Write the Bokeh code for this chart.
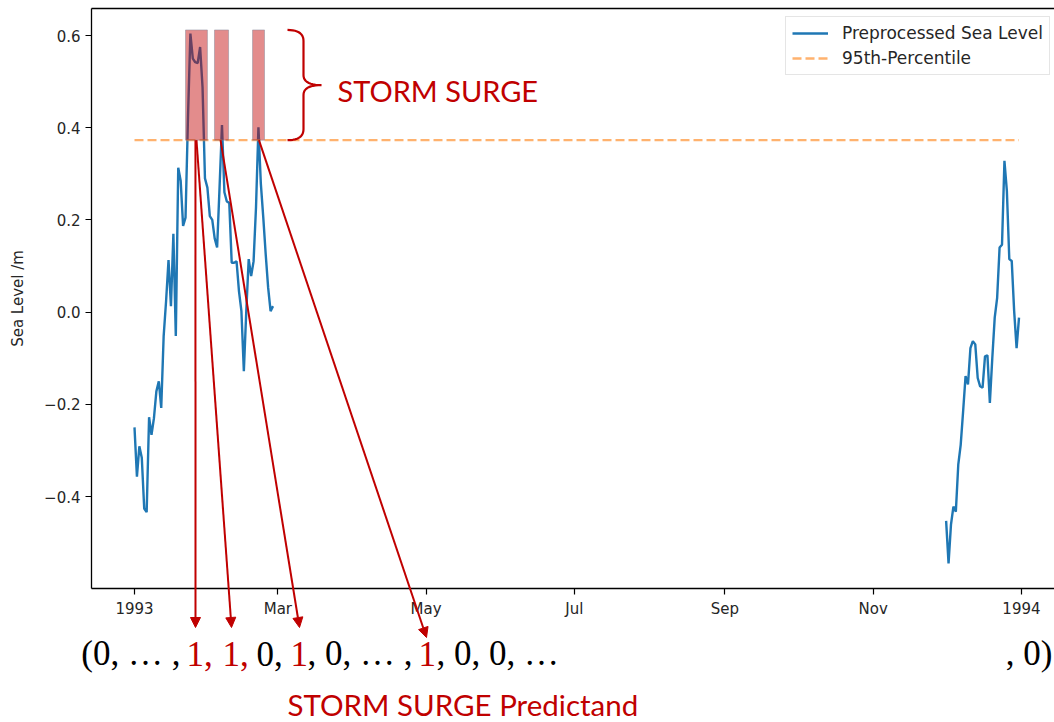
import numpy as np
import pandas as pd
from bokeh.plotting import figure
from bokeh.models import Range1d, FixedTicker, Label, Arrow, NormalHead
from bokeh.embed import file_html
from bokeh.resources import INLINE

# ---------------- data ----------------
seg1_start = "1993-01-01"
seg1_level = [-0.250, -0.357, -0.291, -0.316, -0.426, -0.434, -0.228, -0.266, -0.230, -0.172,
              -0.150, -0.208, -0.052, 0.024, 0.113, 0.013, 0.170, -0.052, 0.313, 0.285,
              0.187, 0.205, 0.420, 0.604, 0.550, 0.542, 0.540, 0.575, 0.488, 0.290,
              0.270, 0.208, 0.200, 0.160, 0.140, 0.270, 0.406, 0.260, 0.240, 0.237,
              0.107, 0.107, 0.110, 0.045, 0.002, -0.128, 0.002, 0.115, 0.078, 0.110,
              0.227, 0.401, 0.278, 0.205, 0.125, 0.053, 0.002, 0.013]
seg2_start = "1993-12-01"
seg2_level = [-0.453, -0.545, -0.461, -0.422, -0.433, -0.331, -0.288, -0.215, -0.139, -0.157,
              -0.078, -0.063, -0.070, -0.143, -0.161, -0.164, -0.096, -0.094, -0.197, -0.100,
              -0.012, 0.031, 0.140, 0.146, 0.328, 0.263, 0.115, 0.111, 0.002, -0.078,
              -0.012]
threshold_95 = 0.373
threshold_span = ["1993-01-01", "1993-12-31"]
surge_start = ["1993-01-22 00:00", "1993-02-02 22:00", "1993-02-18 14:00"]
surge_end = ["1993-01-31 00:00", "1993-02-08 17:00", "1993-02-23 12:00"]
surge_top = 0.612
arrow_from = ["1993-01-26 02:00", "1993-01-26 12:00", "1993-02-05 10:00", "1993-02-21 05:00"]
x_tick_dates = ["1993-01-01", "1993-03-01", "1993-05-01", "1993-07-01",
                "1993-09-01", "1993-11-01", "1994-01-01"]
x_tick_labels = ["1993", "Mar", "May", "Jul", "Sep", "Nov", "1994"]
y_ticks = [-0.4, -0.2, 0.0, 0.2, 0.4, 0.6]
y_tick_labels = ["\u22120.4", "\u22120.2", "0.0", "0.2", "0.4", "0.6"]

# ---------------- layout helpers ----------------
RED = "#c00000"
BLUE = "#1f77b4"
ORANGE = "#ff7f0e"
INK = "#262626"
DAY = 86400000.0
W, H = 1054, 722


def to_ms(s):
    return pd.Timestamp(s).value / 1e6


T0 = to_ms("1993-01-01")


def dx(px):  # canvas pixel -> data x (ms)
    return T0 + (px - 134) / 2.43 * DAY


def dy(py):  # canvas pixel -> data y
    return 0.6 - (py - 35) / 461.0


def py_of(v):
    return 35 + (0.6 - v) * 461.0


def base_y(py, size):  # alphabetic baseline correction for Label
    return dy(py - 0.415 * size)


FL, FT, FB = 91, 8, 588   # axes box (left, top, bottom) in canvas pixels

p = figure(width=W, height=H, x_axis_type="datetime",
           x_range=Range1d(dx(0), dx(W)), y_range=Range1d(dy(H), dy(0)),
           output_backend="svg", toolbar_location=None,
           min_border_left=0, min_border_right=0, min_border_top=0, min_border_bottom=0)
p.outline_line_color = None
p.xgrid.visible = False
p.ygrid.visible = False
p.background_fill_color = "white"
p.border_fill_color = "white"

# spines
p.segment(x0=[dx(FL), dx(FL), dx(FL)], y0=[dy(FB), dy(FB), dy(FT)],
          x1=[dx(FL), dx(W), dx(W)], y1=[dy(FT), dy(FB), dy(FT)],
          line_color="black", line_width=1.3)

# sea level line (gap between segments)
d1 = pd.date_range(seg1_start, periods=len(seg1_level), freq="D")
d2 = pd.date_range(seg2_start, periods=len(seg2_level), freq="D")
xs = [to_ms(d) for d in d1] + [to_ms(d1[-1]) + DAY] + [to_ms(d) for d in d2]
ys = list(seg1_level) + [np.nan] + list(seg2_level)
p.line(xs, ys, line_color=BLUE, line_width=2.4, legend_label="Preprocessed Sea Level")

# 95th percentile
p.line([to_ms(s) for s in threshold_span], [threshold_95, threshold_95], line_color=ORANGE,
       line_alpha=0.6, line_width=2.4, line_dash="9 4", legend_label="95th-Percentile")

# storm surge boxes
p.quad(left=[to_ms(s) for s in surge_start], right=[to_ms(s) for s in surge_end],
       bottom=threshold_95, top=surge_top, fill_color=RED, fill_alpha=0.45,
       line_color="#8a8a9a", line_alpha=0.5, line_width=1)


# curly brace beside the boxes
def quad_pts(a, c, b, n=12):
    t = np.linspace(0, 1, n)
    return ((1 - t) ** 2 * a[0] + 2 * (1 - t) * t * c[0] + t ** 2 * b[0],
            (1 - t) ** 2 * a[1] + 2 * (1 - t) * t * c[1] + t ** 2 * b[1])


top_py, bot_py = py_of(surge_top), py_of(threshold_95)
mid_py = (top_py + bot_py) / 2
xe, xsp, xt = 287, 303, 321
bpx, bpy = [], []
for seg in [((xe, top_py), (xsp, top_py), (xsp, top_py + 11)),
            ((xsp, mid_py - 10), (xsp, mid_py), (xt, mid_py)),
            ((xt, mid_py), (xsp, mid_py), (xsp, mid_py + 10)),
            ((xsp, bot_py - 11), (xsp, bot_py), (xe, bot_py))]:
    qx, qy = quad_pts(*seg)
    bpx.extend(qx)
    bpy.extend(qy)
p.line([dx(v) for v in bpx], [dy(v) for v in bpy], line_color=RED, line_width=2.2)

p.add_layout(Label(x=dx(337), y=base_y(102, 29), text="STORM SURGE", text_font="Lato",
                   text_font_size="29px", text_color=RED, text_baseline="alphabetic"))

# arrows to the predictand vector
targets = [(195, 627), (231, 627), (299, 627), (426, 637)]
for src, (tx, ty) in zip(arrow_from, targets):
    p.add_layout(Arrow(end=NormalHead(size=10, fill_color=RED, line_color=RED, line_width=1),
                       x_start=to_ms(src), y_start=threshold_95, x_end=dx(tx), y_end=dy(ty),
                       line_color=RED, line_width=2))

SER = 35
BASE = 668
pieces = [("(0, \u2026 ,", 180, "black", "right"),
          ("1,", 186, RED, "left"), ("1,", 222, RED, "left"),
          ("0,", 256, "black", "left"), ("1", 290, RED, "left"),
          (", 0, \u2026 ,", 307, "black", "left"), ("1", 418, RED, "left"),
          (", 0, 0, \u2026", 436, "black", "left"), (", 0)", 1052, "black", "right")]
for txt, px, col, al in pieces:
    p.add_layout(Label(x=dx(px), y=base_y(BASE, SER), text=txt, text_font="Liberation Serif",
                       text_font_size=f"{SER}px", text_color=col, text_baseline="alphabetic",
                       text_align=al))
p.add_layout(Label(x=dx(287), y=base_y(716, 29.5), text="STORM SURGE Predictand", text_font="Lato",
                   text_font_size="29.5px", text_color=RED, text_baseline="alphabetic"))

# y-axis title
p.add_layout(Label(x=dx(17), y=dy((FT + FB) / 2), text="Sea Level /m", text_font="DejaVu Sans",
                   text_font_size="15px", text_color=INK, angle=np.pi / 2,
                   text_align="center", text_baseline="middle"))

# axes (drawn inside the canvas at the box edges)
for ax in (p.xaxis, p.yaxis):
    ax.axis_line_color = None
    ax.major_tick_line_color = "black"
    ax.major_tick_line_width = 1.2
    ax.major_tick_out = 6
    ax.major_tick_in = 0
    ax.minor_tick_line_color = None
    ax.major_label_text_font = "DejaVu Sans"
    ax.major_label_text_font_size = "15px"
    ax.major_label_text_color = INK
    ax.major_label_standoff = 5

p.xaxis.fixed_location = dy(FB)
p.yaxis.fixed_location = dx(FL)
p.xaxis.ticker = FixedTicker(ticks=[to_ms(d) for d in x_tick_dates])
p.xaxis.major_label_overrides = {to_ms(d): lab for d, lab in zip(x_tick_dates, x_tick_labels)}
p.yaxis.ticker = FixedTicker(ticks=y_ticks)
p.yaxis.major_label_overrides = {v: lab for v, lab in zip(y_ticks, y_tick_labels)}

lg = p.legend[0]
lg.location = (785, H - 75)
lg.margin = 0
lg.padding = 6
lg.spacing = 5
lg.glyph_width = 36
lg.glyph_height = 20
lg.label_standoff = 14
lg.label_text_font = "DejaVu Sans"
lg.label_text_font_size = "17px"
lg.label_text_color = INK
lg.border_line_color = "#cccccc"
lg.background_fill_alpha = 0.8

open("out.html", "w").write(file_html(p, INLINE))
